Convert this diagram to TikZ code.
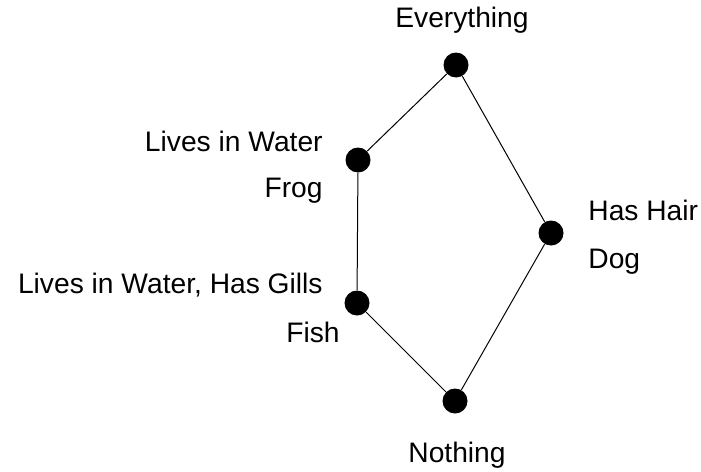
\documentclass[tikz,border=0pt]{standalone}
\usepackage{fontspec}
\setmainfont{Liberation Sans}
\usetikzlibrary{positioning}

\begin{document}
\begin{tikzpicture}[
  x=0.5pt, y=-0.5pt,
  concept/.style={circle, fill=black, inner sep=0pt, minimum size=12.5pt},
  lbl/.style={inner sep=0pt, font=\fontsize{14.1pt}{16pt}\selectfont},
  edge/.style={line width=0.5pt},
]
  \useasboundingbox (0,0) rectangle (701,471);

  % concepts
  \node[concept] (top) at (456,65) {};
  \node[concept] (water) at (358,160) {};
  \node[concept] (hair) at (551,233) {};
  \node[concept] (gills) at (357,303) {};
  \node[concept] (bottom) at (455,401) {};

  \draw[edge] (top) -- (water);
  \draw[edge] (top) -- (hair);
  \draw[edge] (water) -- (gills);
  \draw[edge] (gills) -- (bottom);
  \draw[edge] (hair) -- (bottom);

  % labels
  \node[lbl, anchor=base] (lEverything) at (462,27) {Everything};
  \node[lbl, anchor=base east] (lWater) at (323,151) {Lives in Water};
  \node[lbl, anchor=base east] (lFrog) at (323,197) {Frog};
  \node[lbl, anchor=base west] (lHair) at (588,220) {Has Hair};
  \node[lbl, anchor=base west] (lDog) at (588,268) {Dog};
  \node[lbl, anchor=base east] (lGills) at (323,293) {Lives in Water, Has Gills};
  \node[lbl, anchor=base east] (lFish) at (340,342) {Fish};
  \node[lbl, anchor=base] (lNothing) at (457,462) {Nothing};
\end{tikzpicture}
\end{document}
